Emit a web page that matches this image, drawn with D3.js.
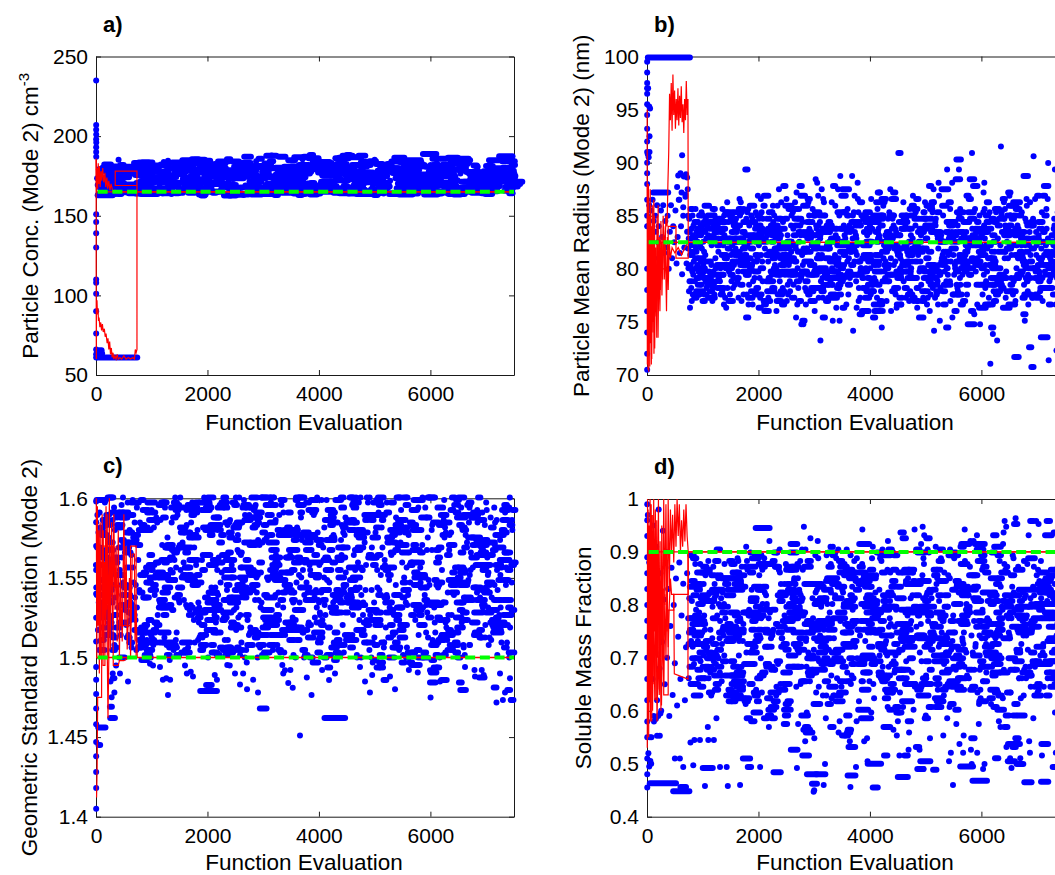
<!DOCTYPE html>
<html><head><meta charset="utf-8">
<script src="https://cdn.jsdelivr.net/npm/d3@7"></script>
<style>body{margin:0;background:#fff}svg{display:block}text{font-family:"Liberation Sans",Arial,Helvetica,sans-serif}</style>
</head><body><svg id="chart" width="1055" height="875"></svg>
<script>
// ---------- DATA ----------
const evalTicks = [0, 2000, 4000, 6000];
const ticksA = [50, 100, 150, 200, 250];
const ticksB = [70, 75, 80, 85, 90, 95, 100];
const ticksC = [1.4, 1.45, 1.5, 1.55, 1.6];
const ticksD = [0.4, 0.5, 0.6, 0.7, 0.8, 0.9, 1];
const trueA = 165, trueB = 82.5, trueC = 1.5, trueD = 0.9;

// sampled values, 2-digit codes (value = base + code*step); each string is one block of samples
const cloudASpan = [20, 7490], cloudACode = [160, 0.3];
const cloudA = [
"4512783361092755184470296338125873204166","3184521567244910763658218943146230714826",
"1157387422654790195334681381402859167237","6425501783420969315623774614603586275219",
"3973125844216630924815632654803370114157","2468361375502861184587325922714014644929",
"5516784227651052348320674712563874256144","1862317946235815703794265113664329763554",
"4127691457338521486411397328601752822445","6730125540772563195035721544883158236938",
"1353467122603716814928654210573476205391","3659244873176239277014553184452166125029",
"7418436132560968264779155335642240862858","2147703415635127934218593675244913673255",
"6026388219544411663071235741167833622046","1569522877372258451364872950347017553981",
"4832631641745620358927461261255372381467","2957196650248043316218754055113668224784",
"5314763925593371104865215630794417632852","3764235185154528674013589234217349266019",
"7022471258366918533077412464155035834327","1661347827521165422057883168451974385523",
"4430722563174981365926147039539628611247","2655136741753122561062457923483366177135",
"5919452984386014477332542165371152782542","1268355620467127904017635028744315583481",
"4724611476335386196638255713446930216250","3377185239641145287155923660234917754114",
"6527431557802468341251407326621854378330","2052703623486317584279291467453188562261",
"4213597431662650158539614722723512546928","5735246211457738215530681649832763411873",
"2871481967321459449023523775136025466438","6316375482214970271361431866345678305124",
"3560227543285612694719943958257141156633"];
// how many steps the chain stayed at each value (one digit per sample)
const cloudARuns = [
"2130412231032142031220413210230142213021341203122014320123104213202143012320413021324102312041320213",
"1320241302314201234102314203122140321302412031320412304213201342031240213041230231402132041302314201",
"3021430213204132031412032413021420313240213041203132140213402130241302143203120421302413203142013024",
"0213420131240321304132014320132041320312401320214313204120312401320413203142013241302130421320314201",
"4120312043130241320123041320143210241320134021302413201430213402130241302143012320413021432013042130",
"1302413021430213041232014321024130213402132041320413021430213402130241302140213042130213402130413021",
"2413021340213042130214302130421320413021342013024130213402130241302143201304213024130214302130412302"];

const cloudBSpan = [740, 7500], cloudBCode = [65.8, 0.31];
const cloudB = [
"5241634736582955446750386145723349574264","4659345368405124624837564370315447653958",
"5543497635604552306341574866385317594450","3962475633715042583664455327604941683554",
"6137544465483057514069345946558143623847","4256663152456039744855356343505828534667",
"5748406136534770425933516445385649622255","3460524457396550463258436737544861415378",
"5045633855492958426647533660447151395746","6441544735615243683756504059335546624818",
"4758366350445731544569405261384956436635","5339604842655137584655813457476341505944",
"4062455633534867435936516439465526615042","5844523761495641704635605345573248654354",
"3655476439524558346250435738734854416047","5143623556484066534459375063455539571649",
"4560385450674257463361524056486436535943","6247554158365145634939565442794760385246",
"3853445948653557504362463155415849663754","5642614737545244594067495735634551396048",
"4458506543563962475328604552385764425550","5936544663415749346151445872405347623756",
"4864425551386045564366355247594154196146","5340574961445236635042584668395548436051",
"3759465243645541505733624854456038568044","6045533958476743554961375144573563504654",
"4256486236544459514065475630614943585238","5541604657503853634549584154764760365548",
"4962405645526643583754486144505739644653","6438514759425549356053455740624824564358",
"4657436150395652446347583655496042536745","5244593554486241575045663956435159463861",
"3955476044535837624651425748643455504559","5749634256453860485443615270415846533750",
"4361505540594752643956455849356251445776","5846543963514457416048533765465542595047",
"4760415649623654455852406347552961445357","5442584865445159385646614350574164495435",
"4157524560375548624353584639615044566848","6047554351644057495436594562485341584652",
"4553613856494460524157476335555059435421","5640505846635342594855376151445739624755",
"4959435462455638516047526641574653496043","6244575039584755436153455949365651644254",
"3855486352416045575044623954475883515646","5751425947566443533761485545605240574963",
"4661544058495366445742515947553862504556","5343594855376246515744604941565263455839",
"4458505645613954475952436548554157504460","5947456252485641604654385851456343554957",
"4861375544665230584163503557466943543960","5642644933594571513862475528604467534058",
"4157506836536245743956486542515934634754","6346554061523358476744543760507243562549",
"5238674557316349554270365946536440574861","4560513465485643623953584776415561375266",
"5944625338694655276049644251573566485443","3655476150427354445833625146684056496353",
"6250415745645337604856397144554761325850","4758664352355950634167544557386249744356",
"5439496256464065523158446150554264473660","4364553770515845486239563366465359416852",
"6047365844614956684253466455296051385745","5158634653407248573561504459526637554762",
"3853496742575234604755654151634558305448","6544575061365447594369523856486045537140",
"4660415549644558513362485742675339615056","5735526347546840564559375164445852466231",
"5062455639715053426147556636604954435764","4256604858443763555040684659533562514558",
"6149385466515745346252435848734156604753","4855644253594670505739644554613752674459",
"5537506145685641594753366352445849654057","4063574635566249446658514060554769425350",
"5846536550436038725448624157466335595145"];
const cloudBRuns = [
"0100210010102001030010012010010210010100200100130010100201010010210010010010200103010010201001002010",
"1001020100020100103001001200101002010010030100200100102010001020010301001002010010300100200100102010",
"0020100103001020100101003020100102001010020100301010010201000102010030100100020100103010020100201010",
"2010010030100102001002010010030100201010003010010200102010003010020100102001030100010201002010300100",
"0102001003010020101000301020010010020103010010200010300102010010020100301001020010010301000201001002",
"1000201003001020010100300102010100102003001020010001030100201001000301002010010200103001002010010020",
"0100300102001020100103001002010010020010300101020010010301002010010002010300102010001020010300100201",
"2001003010010200100103001020100100201003001002010010300100201001000201030100201001001030020010201000",
"0103001020100102001003001020010010030100201001020010030100201001000302010010201000301002010010200103",
"1002010030010020100100301020100100200103001020100030100201001001030010020100100201001030100200102011",
"0100201001020100010300100201002001001030010020010100201030010010200100100200103001001020010020100102",
"1001000201003010010201002001030010020100102001003001001020010201000103001020010201003010002010010201",
"0020103001001020010030100201001001020010030100200100103001020100200103001001020010300100200100201001",
"2010010200100301002001002010010030102001001020010301001020100030010201001002010010200103001001020100",
"0102001003010020101002001030010010201000301002010010020100300100102001020100100301002001010020103010"];

// 3-digit entries: 2-digit value code + run digit (steps the chain stayed at that value)
const cloudCSpan = [0, 7480], cloudCCode = [1.445, 0.00157];
const cloudC = [
"724881453962570381841613991462732520893412681300573941752480","632910391554801440972661513860361702590925431770252641833501",
"983471740582871402690951543370812621441900712331564850492781","600932421673990531762380881642460823571970352721190612911453",
"791550862411700943501630372841583980431752660891292520801472","920682391570853481730962601440782361900543831650402991710231",
"512871620453951740382591820492971660423761550882341690932581","460792611900372701533980441842650311572920481733860402631950",
"721352890561673430991812500751270942601380863521780452911640","852491680971413760582901360622831470712990541323880661442800",
"571930402741630873511350962691460822591210771942420651533890","382700981552810441673920481752610361862520971730412641300843",
"661912470581793390951712540871432620991503760371892600451722","930561342800681972420741593850481260662901530782401960632511",
"772440881612371990703521830462941650391752570861312690921493","601820452971730543891380672931490781622350841562990411723170",
"871642430911580762361953500691842470991620392801550713441900","532960681412850591743330921482630881572790451982660371822700",
"421750942521670863391610992471720552901280811642490931583360","842601460971712530891402660783351920571832440691990512761620",
"471880592731380952641500813421700911552330861672450981610792","560932691430771242620901483850581392960721522800361653940461",
"752990411632870541320702921490683831440972601370781572890661","380812591950711463880621402760981532670341852500731913440581",
"902650481792560961420693841300612931520751392870641472990711","551820362681940503771440892611200731972570411862660351803520",
"981632450741880572391920702481830603951430781542310671902460","720491862620371992580801443690931532760401882640511960272741",
"602911470792551350851682990421733570891502640381952710461820","521772940401662870591453970701332840621482910561750992431680",
"891540712361960613831470782581930411672850501982630251762550","442920651802390721573950491862610341782530991690422881590743",
"970561382830681462900621753510941402700871552290791642990481","631852420741960582371810673501920451712980601352880541772410",
"782480931662520841390992721570453891630311802950501692430861","550711972400831612470913681360761582990531862440651222790941",
"692431870561743950491642380821590982461700902521350771622850","921600412791540883671450961732510371842630991482750571300902",
"470812651390941582720871443610981532360761890682421950561180","742970501662850401593910711462830621350992551780432691930523",
"880571722340951630482801990543671410862601380771922490701582","641440902751560372971690511843620421792930461710262871550661",
"992530761402890611473940681350822581730961432650881502780391","600851452700921542380811663980491752570331902630441860722961",
"511790672411940581872460731993550361832620481912700531280772","830411660952520741380881600472990701550361810632440921580771",
"491860620392970721540431900650371792560980461680841400612930","710531350890642450961580760421850672500311940730571390821480",
"991600440781550912380690521870410741630970482800361590880661","450921700540832370621960490751580402860680331990570791430640",
"811500940391670562880460721980420611850530772350900641480710","580971430690841520380932660470801600990411730550892360630951",
"441760620911500280821670400962570740461870590371980700532850","680390931540790452990610861420720571350900651480830592970410",
"880521700380951630460812560990431750600921360670501840710221","470850641970410732550900381680530991450790622360870581940700",
"931560400771660490892350610961520820441710990581370860652480","620980461740530911390680842570430951700330801600490921750551",
"381710870591960450642820500991410760561900670351850530721940","570831420660971510780402920630481880700261590950441810680372",
"900650491990720361840580441930610792520390871670470961550740","431810600941540700381890662460980751570410851630500922690350",
"780551970420681860510731370910622480830591990450761650400881","640460901710530952390800581670300871490740961560420832610990",
"521890680361930600771440980632500850411720570911380660812470","950590731450860541990390692820480641920570351780610971430700",
"400841620970511750880442660930581370810701990530461890640181","731500910601420870672550960381790630851470710992520400761580",
"860640481920570811360690981450742610900531390830661950490721","590971410780651880520992460700351840620931560430802680910541",
"751380890631490960711570320852670440921600990511780400871650","470820692940550391760990611450870531720970372660840581420900",
"681950520791430880632360980741560910481830600991400700542860","920461730580971650410851550350902690500811620990441770590941",
"390801670960531860710472930600751420990571840640381910500731"];

const cloudDSpan = [740, 7480], cloudDCode = [0.44, 0.0054];
const cloudD = [
"621482750331813550401692220581770442661510842371600121722470","532790351643420701282560821462670311742590381890502181630761",
"410682541800271613450731362580851490652091520772341620431712","571240702461830392641520781303670441930552721160601482810351",
"690501762320581432860611260743471650382791540201702570421632","451820592341710531142660401782620291750493851560372681510961",
"732410601870522251690461802330641573390771482110671550832431","580361722500651302790441610883531210701472630381762560421680",
"841492660271572740401613350801520692171590452771320641910542","390711552820461630232681510753431600861342570721482130661410",
"622780371532700281640473811560422731590311672500851442190761","540681332790451612940521380742581260653411830492711360601472",
"751430572101660511802350621483720291562870401690532771450631","392580821462670321743550211612490781370642521890421702150591",
"680441762530341810602471720273651500852391570731432620961552","481710362631520792241580451673830411562740301610492121690772",
"602350541802460661190722571400843511630332751440911592380701","520771422650281582860481710372611140553791440682311730501622",
"831450642391570741222690531810412601353760491882560171670432","580722471630301802540401662930511360753591250691462840611380",
"701550422781620331572110671493820441642370731520872281590471","352660811502240711450602771400563921630311742530681182580791",
"460621392850571722290511670432781553160701480642361830592411","742531330681890452611270572760401653500821372590131710472631",
"561800422691340622481750211583860441662520381730602951460672","390711572261640492821350601772450541123680411862550321730502",
"631470782581300671432840521190703561370752611910481652270541","810422591720361642230551792470681333600861512150741440622381",
"572690451832310621500763401660242581880531712360641472800101","481740342611550792421670281732520901393630461822570201700592",
"650371762510441852600321682540141783470621412730561970352691","532821400632271710491582860431663310751552180611460792381640",
"721500352681570882441620221763530411662830481590302701450921","600391742520651162570801430692341553770471612250841510672421",
"782460631292560711400852531670373601940492731320581112660511","441700582361820622481750231642530793411570871332680501722390",
"612270551732450661900382591770503141690432811560351632470741","540861402620311712570461782200651523830371602440761582960291",
"671490722351580802431640172701540393751610882471260661522790","412630561842330691482750591120663441810532711370621282770551",
"730511382680851452600241762570421643910491702340581800462151","621770432541300712591870481662360743521210631452820571390692",
"640451780520331700582810400671490750271610550841430722360630","501760390661820570442710190601790470681350540881620410742560",
"730480611370800532690420771580310651850460721550240622790510","381670830561440750602340700521890640471780150591730410661540",
"810571450690361760620502840400711590280661530790432680950601","470721580330801640490742390610861540420701210650782510370631",
"691550820411600740322670520791450630901380570712480130651760","560430771620350682510840461730590261700540811400660582750440",
"781610490721380650552870420691300760531630450801580340712500","410661540830471740200622700570361790640501930450681590390732",
"601770440581850520672350730481620160711560820401650530782460","700510371640800572430750611290680541860470721590340662490770",
"531690420811600380742550650461780220631500710572880410671590","450761620330701520840482660580391790610441730110552680820501",
"670400581770460632710350541830600481750270651520920432690560","801530370721590450682840410621560740311660500781440610182700",
"490641750420571810360692530470731600850391670550241710620442","740580341660790512430700611870460551720380641500810572140680",
"521710450631370760592480820651300690541770420611960560732400","630471800550681250720512600390751580440841660530701350622780",
"410590731480860641540332690770461610200571710430662820500741","701560380651780450602830520681360740571120630491790440672550",
"580761420620711500890472660340791550640401730590281690530812","451670540801390720612480750571850430661310700521780600462630",
"770490641360690552830410721580230651510760441620940572380710","541810600431740660502350780631470700561860410681170590752480",
"680421570790521650380732610460841550690321770500631450722580","510741400670591820470642260710531780440611880560361700490662",
"791620460731550390682500830571430750601150660521800410642710","440581770630371700542860480651590300721510800451670560912420"];
// evaluations per run step, per panel
const runUnits = [60, 40, 50, 60];

// hand-read extra samples [evaluation, value]
const extraA = [[3,235],[3,207],[3,204],[4,201],[3,198],[5,196],[3,193],[3,190],[4,187],[3,151],[3,146],[3,139],[3,130],[3,110],[3,108],[3,101],[3,90],[3,76],[3,66],[3,63],[3,61]];
const extraB = [[3,99.5],[3,98.5],[3,97.5],[3,96.5],[3,95.5],[3,94.5],[3,93.2],[3,92],[3,91],[3,90],[3,89],[3,88],[3,86.5],[3,85],[3,84],[3,80],[3,78],[3,76],[3,74],[3,72],[3,70.5],
 [15,90.8],[30,90.5],[45,91],[40,95.3],[55,95.1],[45,92.5],[630,90.7],[560,88.8],[600,89],[660,88.7],[700,88.9],[720,88.6],[540,87.7],[580,86.5],[620,87.2],[650,85.8],[690,86.8],[730,87.5],
 [20,84],[40,86],[55,83],[70,85.5],[90,82],[100,86.5],[120,84.5],[130,81],[150,85],[160,83.5],[180,86],[200,82.5],[210,84],[230,80.5],[250,85.5],[270,83],[290,86],[310,81.5],[330,84.5],[350,82],
 [370,85],[390,80],[410,83.5],[430,86],[450,81],[470,84],[490,82.5],[510,85.5],[530,80.5],[550,83],[570,86.5],[590,81.5],[610,84],[630,79.5],[650,85],[670,82],[690,87],[710,80.5],[720,83.5],[735,85]];
const extraC = [[3,1.405],[3,1.418],[3,1.428],[3,1.438],[3,1.447],[3,1.458],[3,1.468],[3,1.477],[3,1.486],[3,1.494],[3,1.51],[3,1.525],[3,1.54],[3,1.555],[3,1.57],[3,1.585],[3,1.598],
 [260,1.485],[300,1.49],[330,1.478],[360,1.495],[280,1.475],[430,1.49],[574,1.485],[969,1.496],[1023,1.495],[1148,1.494],[1200,1.486],[1260,1.487],[1292,1.4765],[1330,1.486],[1597,1.495],
 [1630,1.49],[1700,1.491],[1740,1.488],[2170,1.486],[2400,1.495],[2494,1.49],[2584,1.483],[2640,1.49],[2710,1.48],[2820,1.486],[2907,1.478],[3391,1.492],[3360,1.49],[3450,1.484],[3530,1.481],
 [3660,1.451],[4288,1.49],[4737,1.494],[4827,1.485],[5275,1.488],[5365,1.48],[5993,1.492],[6172,1.485],[6621,1.494],[6800,1.488],[7249,1.49],[7339,1.478],[7428,1.487]];
const extraD = [[5,0.99],[5,0.96],[5,0.93],[5,0.89],[5,0.86],[5,0.83],[5,0.8],[5,0.77],[5,0.74],[5,0.7],[5,0.66],[5,0.62],[5,0.58],[5,0.55],[5,0.51],[5,0.48],[5,0.455],
 [15,0.97],[25,0.52],[40,0.88],[50,0.55],[60,0.93],[75,0.5],[90,0.79],[100,0.66],[110,0.95],[125,0.58],[140,0.84],[150,0.71],[165,0.91],[180,0.62],[195,0.77],[210,0.98],[225,0.68],[240,0.86],
 [255,0.6],[270,0.73],[285,0.94],[300,0.81],[320,0.65],[340,0.9],[360,0.7],[380,0.83],[400,0.59],[420,0.76],[440,0.87],[460,0.63],[480,0.8],[500,0.69],[520,0.85],[540,0.61],[560,0.74],
 [580,0.88],[600,0.66],[620,0.78],[650,0.84],[680,0.62],[700,0.72],[720,0.86],[60,0.505],[40,0.495],[120,0.59],[160,0.585],[200,0.59],[240,0.595],[80,0.55],
 [180,0.553],[230,0.553],[500,0.51],[590,0.51],[650,0.494],[830,0.497],[1040,0.458],[1310,0.494],[1430,0.494],[1450,0.458],[1670,0.46],[2030,0.494],[2690,0.492],[3170,0.46],[3000,0.45],
 [2990,0.447],[3650,0.456],[3750,0.494],[4960,0.49],[5490,0.46],[6030,0.49],[6540,0.492],[780,0.54],[850,0.545],[950,0.545],[1100,0.545],[1200,0.545]];

// stuck-chain runs [from evaluation, to evaluation, value]
const runsA = [[30,740,61],[40,110,63.5],[60,100,65.5],[30,300,162.8]];
const runsB = [[15,770,99.9],[110,380,87.2],[2,20,97]];
const runsC = [[40,170,1.456],[45,75,1.445],[255,340,1.462],[250,285,1.469],[300,330,1.487],[1870,2170,1.479],[2940,3060,1.468],[4100,4470,1.462]];
const runsD = [[50,520,0.463],[470,760,0.448],[600,700,0.456],[1950,2200,0.945],[1000,1180,0.492],[1720,1850,0.51],[2270,2400,0.484],[2870,3050,0.48],[2960,3050,0.462],[3030,3200,0.48],
 [3600,3740,0.478],[3960,4200,0.5],[4050,4140,0.455],[4500,4680,0.475],[4850,4960,0.49],[5620,5850,0.495],[5840,6100,0.468],[6770,6900,0.465],[7070,7200,0.466]];

// red chain traces [evaluation, value]
const redA = [
 [[3,186],[3,120],[6,60],[8,95],[12,91],[18,97],[25,88],[35,92],[45,84],[55,86],[70,80],[85,83],[100,78],[115,82],[130,77],[150,79],[165,74],[180,76],[200,70],[215,73],[230,66],[245,71],[260,63],[275,67],[290,61],[305,64],[320,60],[340,62],[360,60],[380,63],[400,60],[430,61],[460,60],[500,62],[540,60],[580,61],[620,60],[660,61],[690,60],[705,66],[720,64],[735,66],[735,178],[345,178],[345,169],[735,169]],
 [[2,185],[10,165],[20,180],[30,167],[40,183],[50,170],[60,181],[75,168],[90,178],[105,172],[120,180],[140,171],[160,177],[175,168],[195,174],[210,167],[230,172],[250,166],[270,170],[300,165.5],[340,166],[400,165],[7500,165]]];
const redB = [
 [[3,95],[6,71],[12,86],[18,70.5],[26,88],[34,73],[42,85],[50,70.8],[58,87.5],[66,74],[75,84],[85,71.5],[95,86],[105,75],[115,83],[125,72],[135,85],[145,76],[160,82],[175,73.5],[190,84],[205,77],[220,83],[240,78],[260,82.5],[280,79],[300,84],[320,81],[340,85],[360,84],[375,88],[390,91],[405,96.5],[420,94],[435,97.5],[450,93],[465,98.3],[480,94.5],[495,96.8],[510,93.2],[525,96],[540,94],[555,97],[570,93.5],[585,96.3],[600,94.2],[615,97.2],[630,93.8],[645,95.5],[660,92.8],[675,96],[690,94],[705,97.7],[720,94.5],[735,96],[740,82.5],[7500,82.5]],
 [[8,88],[16,72],[24,83],[32,70.3],[44,81],[54,73],[64,86],[78,71],[92,82],[108,74],[122,86.5],[138,72.5],[152,80],[168,75.5],[182,85],[198,73.5],[215,81],[232,76],[250,84.5],[268,77.5],[290,85],[310,79],[330,82],[350,76],[365,83],[380,78],[400,82.5],[420,81],[450,82],[500,81.5],[560,82],[620,81.3],[680,82],[740,82.5]],
 [[200,86],[200,80],[380,80],[380,84],[520,84],[520,81],[740,81],[740,82.5]]];
const redC = [
 [[10,1.412],[20,1.43],[30,1.475],[100,1.475],[110,1.59],[120,1.51],[130,1.58],[140,1.5],[150,1.56],[170,1.52],[180,1.595],[200,1.51],[215,1.462],[230,1.5],[250,1.57],[260,1.505],[280,1.585],[300,1.52],[320,1.59],[340,1.53],[360,1.57],[380,1.51],[400,1.58],[420,1.5],[440,1.55],[470,1.51],[500,1.59],[520,1.52],[540,1.57],[560,1.505],[600,1.55],[620,1.5],[650,1.565],[690,1.565],[700,1.51],[720,1.53],[740,1.5],[7500,1.5]],
 [[5,1.6],[15,1.5],[25,1.595],[35,1.52],[50,1.58],[60,1.49],[75,1.585],[85,1.5],[95,1.56],[120,1.56],[125,1.495],[160,1.495],[170,1.575],[190,1.53],[200,1.59],[220,1.5],[240,1.6],[245,1.53],[260,1.54],[300,1.54],[310,1.495],[400,1.495],[420,1.498],[500,1.498],[600,1.5],[740,1.5]],
 [[100,1.57],[300,1.57],[300,1.545],[440,1.545],[440,1.52],[620,1.52],[620,1.57],[720,1.57],[720,1.5]]];
const redD = [
 [[5,0.53],[10,1.0],[15,0.6],[20,0.98],[30,0.55],[35,0.95],[45,0.62],[55,1.0],[65,0.7],[75,0.99],[85,0.58],[95,0.97],[110,0.65],[120,1.0],[135,0.75],[150,0.98],[160,0.62],[175,0.96],[190,0.7],[205,1.0],[220,0.64],[235,0.92],[250,0.6],[265,0.95],[280,0.7],[300,1.0],[320,0.8],[340,0.99],[360,0.75],[380,1.0],[400,0.83],[420,0.98],[440,0.9],[460,0.97],[480,0.88],[500,0.99],[520,0.91],[540,1.0],[560,0.93],[580,0.99],[600,0.9],[620,0.96],[640,0.91],[660,0.98],[680,0.92],[700,0.99],[720,0.93],[740,0.9],[7500,0.9]],
 [[10,0.9],[20,0.62],[40,0.84],[60,0.58],[80,0.86],[100,0.6],[120,0.79],[140,0.62],[160,0.84],[180,0.58],[200,0.72],[220,0.63],[240,0.7],[260,0.61],[280,0.77],[300,0.65],[320,0.82],[340,0.7],[360,0.85],[380,0.72],[400,0.8],[420,0.85],[440,0.82],[480,0.82],[490,0.67],[735,0.66],[735,0.9]],
 [[30,0.72],[30,0.87],[120,0.87],[120,0.72],[200,0.72],[200,0.83],[300,0.83],[300,0.63],[380,0.63],[380,0.79],[480,0.79],[480,0.82],[740,0.82],[740,0.9]]];

const labelsY = ["Particle Conc. (Mode 2) cm", "Particle Mean Radius (Mode 2) (nm)", "Geometric Standard Deviation (Mode 2)", "Soluble Mass Fraction"];
const titles = ["a)", "b)", "c)", "d)"];
const labelX = "Function Evaluation";

// ---------- LAYOUT ----------
const FONT = 21, LFONT = 22.5, R = 3.0;
const BLUE = "#0000ff", RED = "#ff0000", GREEN = "#00ff00";
const panels = [
 {left:96,  top:56.5, bottom:375,   xl:430,   yDom:[50,250],  ticks:ticksA, pts:cloudA, runs2:cloudARuns, span:cloudASpan, code:cloudACode, triple:false, unit:runUnits[0], extra:extraA, runs:runsA, red:redA, truth:trueA, ylab:labelsY[0], sup:"-3", ylx:38,  title:titles[0]},
 {left:647, top:56.5, bottom:375,   xl:430,   yDom:[70,100],  ticks:ticksB, pts:cloudB, runs2:cloudBRuns, span:cloudBSpan, code:cloudBCode, triple:false, unit:runUnits[1], extra:extraB, runs:runsB, red:redB, truth:trueB, ylab:labelsY[1], ylx:589, title:titles[1]},
 {left:96,  top:498.3,bottom:816.7, xl:869.5, yDom:[1.4,1.6], ticks:ticksC, pts:cloudC, runs2:null,       span:cloudCSpan, code:cloudCCode, triple:true,  unit:runUnits[2], extra:extraC, runs:runsC, red:redC, truth:trueC, ylab:labelsY[2], ylx:37,  title:titles[2]},
 {left:647, top:499,  bottom:816.7, xl:869.5, yDom:[0.4,1],   ticks:ticksD, pts:cloudD, runs2:null,       span:cloudDSpan, code:cloudDCode, triple:true,  unit:runUnits[3], extra:extraD, runs:runsD, red:redD, truth:trueD, ylab:labelsY[3], ylx:591, title:titles[3]}
];
const PW = 418;
const svg = d3.select("#chart");

// decode the typed strings; each string is one block, blocks are interleaved along the evaluation axis
function decode(lines, runLines, code, triple) {
  const s = lines.join(""), rs = runLines ? runLines.join("") : null, w = triple ? 3 : 2, rows = [];
  for (let i = 0, k = 0; i + w <= s.length; i += w, k++)
    rows.push({v: code[0] + (+s.substr(i, 2)) * code[1], r: triple ? +s[i + 2] : (rs ? +rs[k] : 0)});
  const m = lines[0].length / w, L = lines.length, out = [];
  for (let j = 0; j < m; j++) for (let l = 0; l < L; l++) out.push(rows[l * m + j]);
  return out;
}

panels.forEach(p => {
  const g = svg.append("g");
  const x = d3.scaleLinear().domain([0, 7500]).range([p.left, p.left + PW]);
  const y = d3.scaleLinear().domain(p.yDom).range([p.bottom, p.top]);
  const fmt = d => String(d);
  const styleAxis = sel => { sel.attr("font-family", null).attr("font-size", null).attr("color", "#1a1a1a");
    sel.selectAll("text").attr("fill", "#000").style("font-size", FONT + "px"); sel.selectAll("line,path").attr("stroke-width", 1); };
  g.append("g").attr("transform", `translate(0,${p.bottom})`).call(d3.axisBottom(x).tickValues(evalTicks).tickFormat(fmt).tickSizeInner(-5).tickSizeOuter(0).tickPadding(11)).call(styleAxis);
  g.append("g").attr("transform", `translate(0,${p.top})`).call(d3.axisTop(x).tickValues(evalTicks).tickFormat("").tickSizeInner(-5).tickSizeOuter(0)).call(styleAxis);
  g.append("g").attr("transform", `translate(${p.left},0)`).call(d3.axisLeft(y).tickValues(p.ticks).tickFormat(fmt).tickSizeInner(-5).tickSizeOuter(0).tickPadding(8)).call(styleAxis);
  g.append("g").attr("transform", `translate(${p.left + PW},0)`).call(d3.axisRight(y).tickValues(p.ticks).tickFormat("").tickSizeInner(-5).tickSizeOuter(0)).call(styleAxis);

  // blue samples
  const data = decode(p.pts, p.runs2, p.code, p.triple);
  const n = data.length, step = (p.span[1] - p.span[0]) / (n - 1);
  data.forEach((d, i) => { d.e = p.span[0] + i * step; });
  const blue = g.append("g");
  blue.selectAll("circle.s").data(data.filter(d => d.r === 0)).join("circle").attr("class", "s")
    .attr("cx", d => x(d.e)).attr("cy", d => y(d.v)).attr("r", R).attr("fill", BLUE);
  blue.selectAll("line.s").data(data.filter(d => d.r > 0)).join("line").attr("class", "s")
    .attr("x1", d => x(d.e)).attr("x2", d => x(d.e + d.r * p.unit)).attr("y1", d => y(d.v)).attr("y2", d => y(d.v))
    .attr("stroke", BLUE).attr("stroke-width", 2 * R).attr("stroke-linecap", "round");
  blue.selectAll("line.run").data(p.runs).join("line").attr("class", "run")
    .attr("x1", d => x(d[0])).attr("x2", d => x(d[1])).attr("y1", d => y(d[2])).attr("y2", d => y(d[2]))
    .attr("stroke", BLUE).attr("stroke-width", 2 * R).attr("stroke-linecap", "round");
  blue.selectAll("circle.x").data(p.extra).join("circle").attr("class", "x")
    .attr("cx", d => x(d[0])).attr("cy", d => y(d[1])).attr("r", R).attr("fill", BLUE);

  // red chains
  const line = d3.line().x(d => x(d[0])).y(d => y(d[1]));
  g.selectAll("path.red").data(p.red).join("path").attr("class", "red").attr("d", line)
    .attr("fill", "none").attr("stroke", RED).attr("stroke-width", 1.2);
  // true value
  g.append("line").attr("x1", x(0)).attr("x2", x(7500)).attr("y1", y(p.truth)).attr("y2", y(p.truth))
    .attr("stroke", RED).attr("stroke-width", 1.3);
  g.append("line").attr("x1", x(30)).attr("x2", x(7500)).attr("y1", y(p.truth)).attr("y2", y(p.truth))
    .attr("stroke", GREEN).attr("stroke-width", 4).attr("stroke-dasharray", "10 4.7");

  // labels
  g.append("text").attr("x", p.left + PW / 2 - 1).attr("y", p.xl).attr("text-anchor", "middle")
    .style("font-size", LFONT + "px").text(labelX);
  const yl = g.append("text").attr("transform", `translate(${p.ylx},${(p.top + p.bottom) / 2}) rotate(-90)`)
    .attr("text-anchor", "middle").style("font-size", LFONT + "px").text(p.ylab);
  if (p.sup) yl.append("tspan").attr("dy", -9).style("font-size", "15px").text(p.sup);
  g.append("text").attr("x", p.left + 7).attr("y", p.top - 25).style("font-size", "22px").style("font-weight", "bold").text(p.title);
});
</script></body></html>
